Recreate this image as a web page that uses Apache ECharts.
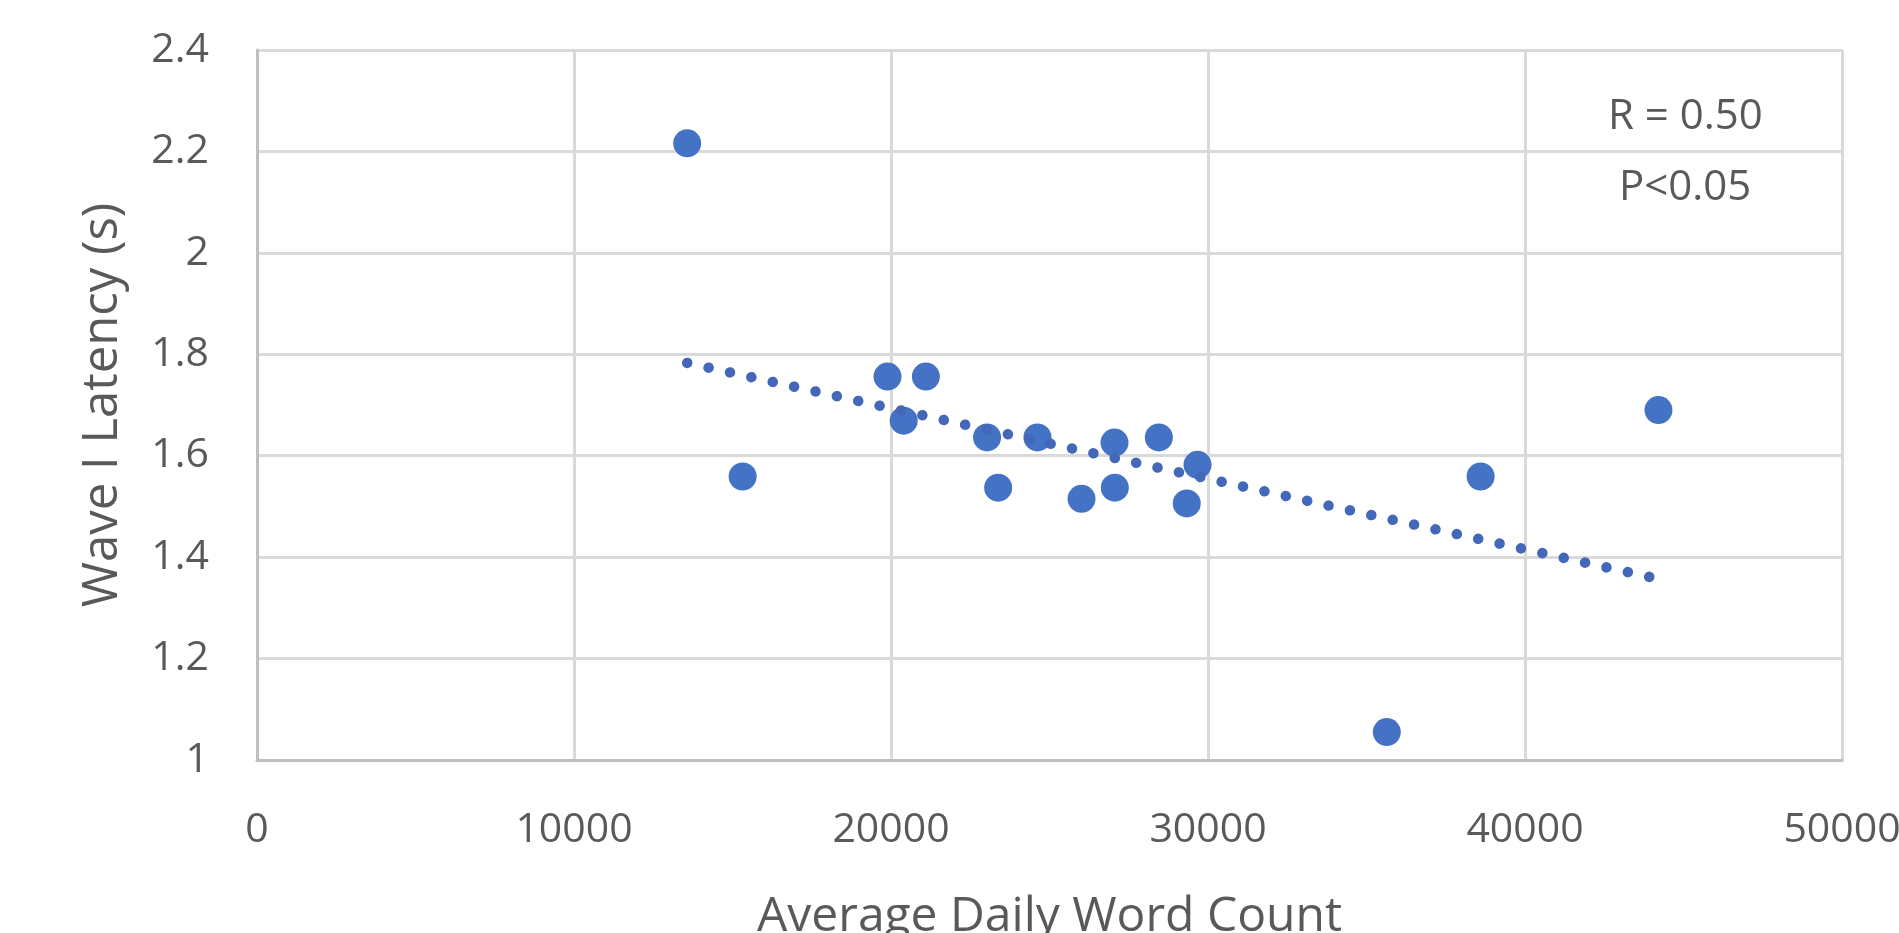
<!DOCTYPE html>
<html>
<head>
<meta charset="utf-8">
<script src="https://cdn.jsdelivr.net/npm/echarts@6/dist/echarts.min.js"></script>
<style>
html,body{margin:0;padding:0;background:#fff;}
#c{width:1899px;height:933px;}
</style>
</head>
<body>
<div id="c"></div>
<script>
// Data
const wordCount = [13570, 15320, 19890, 21100, 20400, 23030, 23380, 24620, 26010, 27050, 27060, 28450, 29670, 29330, 35640, 38600, 44210];
const latency   = [2.216, 1.559, 1.756, 1.756, 1.669, 1.636, 1.537, 1.636, 1.515, 1.626, 1.537, 1.636, 1.582, 1.506, 1.055, 1.559, 1.690];
const trendX = [13570, 44210];
const trendY = [1.783, 1.357];
const xTicks = [0, 10000, 20000, 30000, 40000, 50000];
const yTicks = [1, 1.2, 1.4, 1.6, 1.8, 2, 2.2, 2.4];
const statLines = ['R = 0.50', 'P<0.05'];

const points = wordCount.map((x, i) => [x, latency[i]]);
const trend = trendX.map((x, i) => [x, trendY[i]]);

const chart = echarts.init(document.getElementById('c'));
const textColor = '#595959';
const font = 'Open Sans';
chart.setOption({
  animation: false,
  backgroundColor: '#ffffff',
  grid: { left: 257, right: 57, top: 50, bottom: 173, containLabel: false, outerBoundsMode: 'none' },
  xAxis: {
    type: 'value',
    min: xTicks[0], max: xTicks[xTicks.length - 1], interval: 10000,
    name: 'Average Daily Word Count',
    nameLocation: 'middle',
    nameGap: 133,
    nameTextStyle: { fontFamily: font, fontSize: 48, color: textColor },
    axisLine: { show: true, lineStyle: { color: '#bfbfbf', width: 3 } },
    axisTick: { show: false },
    axisLabel: { fontFamily: font, fontSize: 41, color: textColor, margin: 50, formatter: v => String(v) },
    splitLine: { show: true, lineStyle: { color: '#d9d9d9', width: 3 } }
  },
  yAxis: {
    type: 'value',
    min: yTicks[0], max: yTicks[yTicks.length - 1], interval: 0.2,
    name: 'Wave I Latency (s)',
    nameLocation: 'middle',
    nameGap: 129,
    nameTextStyle: { fontFamily: font, fontSize: 49, color: textColor },
    axisLine: { show: true, lineStyle: { color: '#bfbfbf', width: 3 } },
    axisTick: { show: false },
    axisLabel: {
      fontFamily: font, fontSize: 41, color: textColor, margin: 48,
      formatter: v => String(Math.round(v * 10) / 10)
    },
    splitLine: { show: true, lineStyle: { color: '#d9d9d9', width: 3 } }
  },
  graphic: [
    { type: 'text', left: 1686 - 78, top: 96, style: { text: statLines[0], fontFamily: font, fontSize: 42, fill: textColor } },
    { type: 'text', left: 1686 - 67, top: 167, style: { text: statLines[1], fontFamily: font, fontSize: 42, fill: textColor } }
  ],
  series: [
    {
      type: 'scatter',
      data: points,
      symbol: 'circle',
      symbolSize: 28,
      itemStyle: { color: '#4472C4', opacity: 1 },
      z: 2
    },
    {
      type: 'line',
      data: trend,
      showSymbol: false,
      symbol: 'none',
      lineStyle: { color: '#4468B8', width: 10.5, type: [0.1, 21.8], cap: 'round', opacity: 1 },
      z: 3
    }
  ]
});
</script>
</body>
</html>
